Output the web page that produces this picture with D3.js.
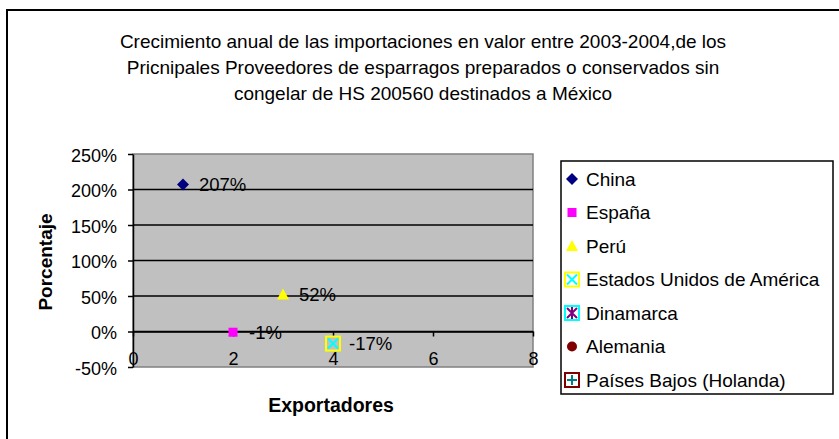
<!DOCTYPE html>
<html>
<head>
<meta charset="utf-8">
<script src="https://cdn.jsdelivr.net/npm/d3@7"></script>
<style>
  body { margin: 0; background: #fff; }
  svg text { font-family: "Liberation Sans", Arial, sans-serif; fill: #000; }
</style>
</head>
<body>
<div id="chart"></div>
<script>
// data
const paises = ['China', 'España', 'Perú', 'Estados Unidos de América', 'Dinamarca', 'Alemania', 'Países Bajos (Holanda)'];
const exportador = [1, 2, 3, 4, null, null, null];
const crecimiento = [2.07, -0.01, 0.52, -0.17, null, null, null];
const yTicks = [-0.5, 0, 0.5, 1, 1.5, 2, 2.5];
const xTicks = [0, 2, 4, 6, 8];
const titulo = [
    'Crecimiento anual de las importaciones en valor entre 2003-2004,de los',
    'Pricnipales Proveedores de esparragos preparados o conservados sin',
    'congelar de HS 200560 destinados a México'
];

const width = 839, height = 439;
const plot = {left: 133, right: 533, top: 154, bottom: 367};

// plain hyphen for negative numbers, like the original
const pct = d3.formatLocale({decimal: '.', thousands: ',', grouping: [3], currency: ['', ''], minus: '-'}).format('.0%');

const svg = d3.select('#chart').append('svg')
    .attr('width', width)
    .attr('height', height);

// outer chart frame (runs off the right and bottom edge)
svg.append('rect')
    .attr('x', 7).attr('y', 10)
    .attr('width', 840).attr('height', 440)
    .attr('fill', '#fff')
    .attr('stroke', '#000')
    .attr('stroke-width', 2);

// title
svg.append('text')
    .attr('text-anchor', 'middle')
    .style('font-size', '19px')
    .selectAll('tspan')
    .data(titulo)
    .join('tspan')
    .attr('x', 423)
    .attr('y', (d, i) => 48 + i * 26)
    .text(d => d);

const x = d3.scaleLinear().domain([0, 8]).range([plot.left, plot.right]);
const y = d3.scaleLinear().domain([-0.5, 2.5]).range([plot.bottom, plot.top]);

// plot area
svg.append('rect')
    .attr('x', plot.left).attr('y', plot.top)
    .attr('width', plot.right - plot.left)
    .attr('height', plot.bottom - plot.top)
    .attr('fill', '#c0c0c0')
    .attr('stroke', '#808080')
    .attr('stroke-width', 1.5);

// gridlines
svg.append('g')
    .selectAll('line')
    .data(yTicks.filter(d => d > -0.5 && d < 2.5))
    .join('line')
    .attr('x1', plot.left).attr('x2', plot.right)
    .attr('y1', d => y(d)).attr('y2', d => y(d))
    .attr('stroke', '#000')
    .attr('stroke-width', 1.5);

// y axis
const yAxisG = svg.append('g')
    .attr('transform', `translate(${plot.left},0)`)
    .call(d3.axisLeft(y).tickValues(yTicks).tickFormat(pct).tickSize(5).tickSizeOuter(0));
yAxisG.selectAll('path, line').attr('stroke', '#000').attr('stroke-width', 1.5);
yAxisG.selectAll('text')
    .attr('x', -16)
    .attr('dy', '0.4em')
    .style('font-size', '18px')
    .style('font-family', '"Liberation Sans", Arial, sans-serif');

// x axis crossing at 0%
const xAxisG = svg.append('g')
    .attr('transform', `translate(0,${y(0)})`)
    .call(d3.axisBottom(x).tickValues(xTicks).tickSize(5).tickSizeOuter(0));
xAxisG.selectAll('path, line').attr('stroke', '#000').attr('stroke-width', 1.5);
xAxisG.selectAll('text')
    .attr('y', y(-0.5) - y(0) - 8)
    .attr('dy', '0.35em')
    .style('font-size', '18px')
    .style('font-family', '"Liberation Sans", Arial, sans-serif');

// axis titles
svg.append('text')
    .attr('x', 331).attr('y', 412)
    .attr('text-anchor', 'middle')
    .style('font-size', '19.5px')
    .style('font-weight', 'bold')
    .text('Exportadores');

svg.append('text')
    .attr('transform', 'translate(52,262) rotate(-90)')
    .attr('text-anchor', 'middle')
    .style('font-size', '19px')
    .style('font-weight', 'bold')
    .text('Porcentaje');

// marker drawing, one style per series
function drawMarker(g, i) {
    if (i === 0) {
        g.append('path').attr('d', 'M0,-6L6,0L0,6L-6,0Z').attr('fill', '#000080');
    } else if (i === 1) {
        g.append('rect').attr('x', -4.5).attr('y', -4.5).attr('width', 9).attr('height', 9).attr('fill', '#ff00ff');
    } else if (i === 2) {
        g.append('path').attr('d', 'M0,-6L6,5L-6,5Z').attr('fill', '#ffff00');
    } else if (i === 3) {
        g.append('rect').attr('x', -7).attr('y', -7).attr('width', 14).attr('height', 14)
            .attr('fill', 'none').attr('stroke', '#ffff00').attr('stroke-width', 2);
        g.append('path').attr('d', 'M-5,-5L5,5M5,-5L-5,5').attr('stroke', '#00ffff').attr('stroke-width', 2);
    } else if (i === 4) {
        g.append('rect').attr('x', -7).attr('y', -7).attr('width', 14).attr('height', 14)
            .attr('fill', 'none').attr('stroke', '#00ffff').attr('stroke-width', 2);
        g.append('path').attr('d', 'M-5,-5L5,5M5,-5L-5,5M0,-6L0,6').attr('stroke', '#800080').attr('stroke-width', 2);
    } else if (i === 5) {
        g.append('circle').attr('r', 5).attr('fill', '#800000');
    } else {
        g.append('rect').attr('x', -7).attr('y', -7).attr('width', 14).attr('height', 14)
            .attr('fill', 'none').attr('stroke', '#800000').attr('stroke-width', 2);
        g.append('path').attr('d', 'M-5,0L5,0M0,-5L0,5').attr('stroke', '#008080').attr('stroke-width', 2);
    }
}

// points with data labels
const puntos = paises.map((p, i) => ({pais: p, x: exportador[i], y: crecimiento[i], i}))
    .filter(d => d.x !== null && d.y !== null);

const pointG = svg.append('g')
    .selectAll('g')
    .data(puntos)
    .join('g')
    .attr('transform', d => `translate(${x(d.x)},${y(d.y)})`);
pointG.each(function(d) { drawMarker(d3.select(this), d.i); });
pointG.append('text')
    .attr('x', 16)
    .attr('dy', '0.35em')
    .style('font-size', '18.5px')
    .text(d => pct(d.y));

// legend
const legend = svg.append('g');
legend.append('rect')
    .attr('x', 561).attr('y', 161)
    .attr('width', 272).attr('height', 233)
    .attr('fill', '#fff')
    .attr('stroke', '#000')
    .attr('stroke-width', 1.5);

const legItem = legend.selectAll('g.item')
    .data(paises)
    .join('g')
    .attr('class', 'item')
    .attr('transform', (d, i) => `translate(572,${179 + i * 33.5})`);
legItem.each(function(d, i) { drawMarker(d3.select(this), i); });
legItem.append('text')
    .attr('x', 14)
    .attr('dy', '0.35em')
    .style('font-size', '19px')
    .text(d => d);
</script>
</body>
</html>
